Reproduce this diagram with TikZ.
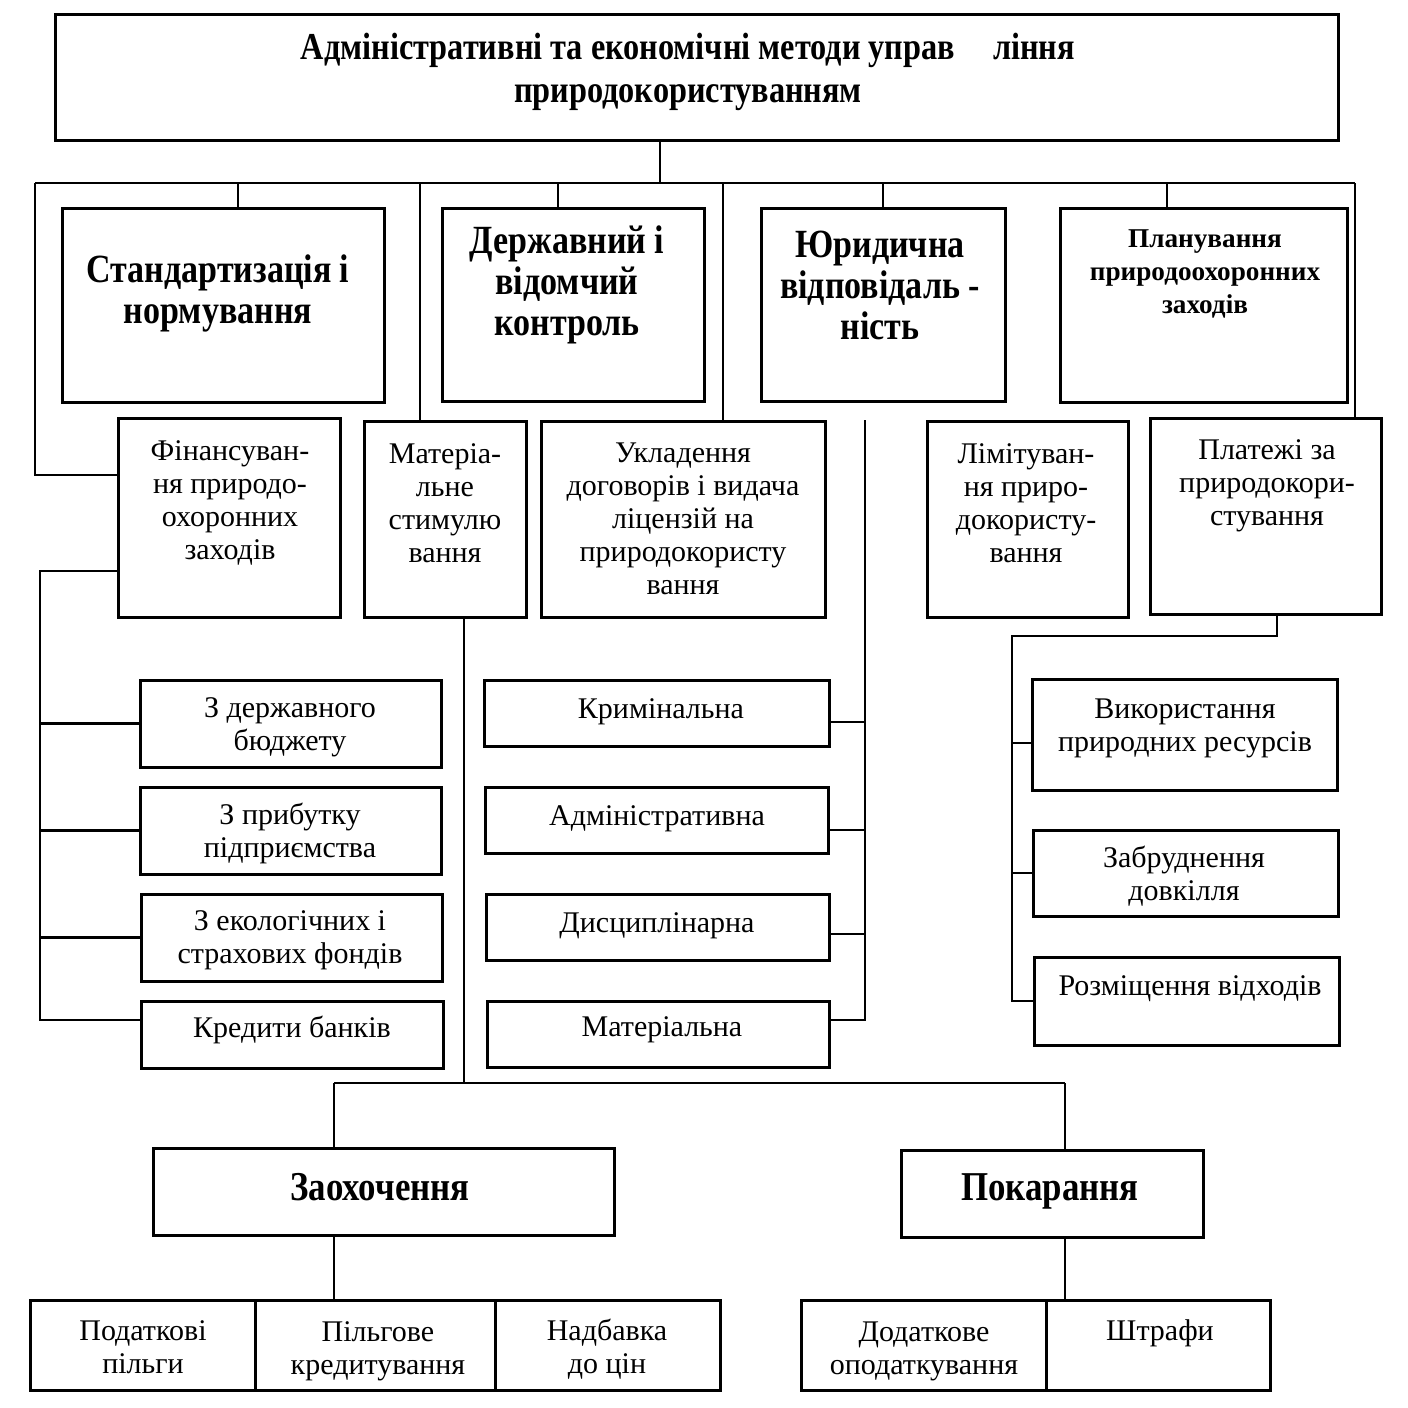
\documentclass[tikz,border=0pt]{standalone}
\usepackage{fontspec}
\setmainfont{Liberation Serif}
\newfontfamily\bcond[FakeStretch=0.85]{Liberation Serif}
\begin{document}
\begin{tikzpicture}[x=0.5pt,y=-0.5pt,
  box/.style={draw, line width=1.5pt, rectangle, inner sep=0pt},
  conn/.style={line width=1.1pt},
  txt/.style={align=center, inner sep=0pt, font=\fontsize{15}{16.5}\selectfont},
  txtb/.style={align=center, inner sep=0pt, font=\bcond\bfseries\fontsize{20}{20.5}\selectfont},
  txtz/.style={align=center, inner sep=0pt, font=\bcond\bfseries\fontsize{20.5}{21}\selectfont},
  txtt/.style={align=center, inner sep=0pt, font=\bcond\bfseries\fontsize{19}{21.5}\selectfont},
  txts/.style={align=center, inner sep=0pt, font=\bfseries\fontsize{13.6}{16.5}\selectfont}]
\useasboundingbox (0,0) rectangle (1408,1408);

% boxes
\node[box, minimum width=641.5pt, minimum height=63pt] (title) at (696.5,77) {};
\node[box, minimum width=161pt, minimum height=97pt] (std) at (223,305) {};
\node[box, minimum width=131pt, minimum height=96.5pt] (derzh) at (573,304.5) {};
\node[box, minimum width=122pt, minimum height=96.5pt] (jur) at (883,304.5) {};
\node[box, minimum width=143.5pt, minimum height=97pt] (plan) at (1203.5,305) {};
\node[box, minimum width=111pt, minimum height=99.5pt] (fin) at (229,517.5) {};
\node[box, minimum width=81pt, minimum height=98pt] (mat) at (445,519) {};
\node[box, minimum width=142pt, minimum height=98pt] (ukl) at (683,519) {};
\node[box, minimum width=100.5pt, minimum height=98pt] (lim) at (1027.5,519) {};
\node[box, minimum width=115.5pt, minimum height=98pt] (plat) at (1265.5,516) {};
\node[box, minimum width=150.5pt, minimum height=43.5pt] (b1) at (290.5,723.5) {};
\node[box, minimum width=150.5pt, minimum height=43.5pt] (b2) at (290.5,830.5) {};
\node[box, minimum width=150.5pt, minimum height=43.5pt] (b3) at (291.5,937.5) {};
\node[box, minimum width=151pt, minimum height=33.5pt] (b4) at (292,1034.5) {};
\node[box, minimum width=172.5pt, minimum height=33pt] (k1) at (656.5,713) {};
\node[box, minimum width=171.5pt, minimum height=33pt] (k2) at (656.5,820) {};
\node[box, minimum width=171.5pt, minimum height=33pt] (k3) at (657.5,927) {};
\node[box, minimum width=171pt, minimum height=33pt] (k4) at (658,1034) {};
\node[box, minimum width=152.5pt, minimum height=55.5pt] (r1) at (1184.5,734.5) {};
\node[box, minimum width=152.5pt, minimum height=43pt] (r2) at (1185.5,873) {};
\node[box, minimum width=152.5pt, minimum height=44pt] (r3) at (1186.5,1001) {};
\node[box, minimum width=230.5pt, minimum height=43.5pt] (zao) at (383.5,1191.5) {};
\node[box, minimum width=151pt, minimum height=43.5pt] (pok) at (1052,1193.5) {};
\node[box, minimum width=112.5pt, minimum height=45pt] (p1) at (142.5,1345) {};
\node[box, minimum width=120pt, minimum height=45pt] (p2) at (375,1345) {};
\node[box, minimum width=112.5pt, minimum height=45pt] (p3) at (607.5,1345) {};
\node[box, minimum width=122.5pt, minimum height=45pt] (d1) at (923.5,1345) {};
\node[box, minimum width=112pt, minimum height=45pt] (d2) at (1158,1345) {};

% texts
\node[txtt] (title-t) at (688,72) {Адміністративні та економічні методи управ\hspace{15pt} ління\\природокористуванням};
\node[txtb] (std-t) at (218,293) {Стандартизація і\\нормування};
\node[txtb] (derzh-t) at (567,285) {Державний і\\відомчий\\контроль};
\node[txtb] (jur-t) at (880,285) {Юридична\\відповідаль -\\ність};
\node[txts] (plan-t) at (1205,274) {Планування\\природоохоронних\\заходів};
\node[txt] (fin-t) at (230,503) {Фінансуван-\\ня природо-\\охоронних\\заходів};
\node[txt] (mat-t) at (445,503) {Матеріа-\\льне\\стимулю\\вання};
\node[txt] (ukl-t) at (683,519) {Укладення\\договорів і видача\\ліцензій на\\природокористу\\вання};
\node[txt] (lim-t) at (1026,503) {Лімітуван-\\ня приро-\\докористу-\\вання};
\node[txt] (plat-t) at (1267,486) {Платежі за\\природокори-\\стування};
\node[txt] (b1-t) at (290,727) {З державного\\бюджету};
\node[txt] (b2-t) at (290,833) {З прибутку\\підприємства};
\node[txt] (b3-t) at (290,940) {З екологічних і\\страхових фондів};
\node[txt] (b4-t) at (292,1030) {Кредити банків};
\node[txt] (k1-t) at (661,712) {Кримінальна};
\node[txt] (k2-t) at (657,819) {Адміністративна};
\node[txt] (k3-t) at (657,926) {Дисциплінарна};
\node[txt] (k4-t) at (662,1030) {Матеріальна};
\node[txt] (r1-t) at (1185,728) {Використання\\природних ресурсів};
\node[txt] (r2-t) at (1184,876) {Забруднення\\довкілля};
\node[txt] (r3-t) at (1190,989) {Розміщення відходів};
\node[txtz] (zao-t) at (380,1187) {Заохочення};
\node[txtz] (pok-t) at (1050,1191) {Покарання};
\node[txt] (p1-t) at (143,1347) {Податкові\\пільги};
\node[txt] (p2-t) at (378,1351) {Пільгове\\кредитування};
\node[txt] (p3-t) at (607,1349) {Надбавка\\до цін};
\node[txt] (d1-t) at (924,1351) {Додаткове\\оподаткування};
\node[txt] (d2-t) at (1160,1333) {Штрафи};

% coordinates
\coordinate (t0) at (660,183);
\coordinate (busL) at (35,183);
\coordinate (busR) at (1355,183);
\coordinate (lx) at (40,571);
\coordinate (jx) at (865,420);
\coordinate (rx) at (1012,636);
\coordinate (zb) at (464,1083);
\coordinate (zbL) at (334,1083);
\coordinate (zbR) at (1065,1083);

% top bus
\draw[conn] (title.south -| t0) -- (t0);
\draw[conn] (busL) -- (busR);
\draw[conn] ([xshift=7.5pt]std.north) -- ([xshift=7.5pt]std.north |- busL);
\draw[conn] ([xshift=-7.5pt]derzh.north) -- ([xshift=-7.5pt]derzh.north |- busL);
\draw[conn] (jur.north) -- (jur.north |- busL);
\draw[conn] ([xshift=-18.25pt]plan.north) -- ([xshift=-18.25pt]plan.north |- busL);
\draw[conn] (busL) |- ([yshift=21.25pt]fin.west);
\draw[conn] ([xshift=-12.5pt]mat.north) -- ([xshift=-12.5pt]mat.north |- busL);
\draw[conn] ([xshift=20pt]ukl.north) -- ([xshift=20pt]ukl.north |- busL);
\draw[conn] (busR) -- (busR |- plat.north);

% financing branches
\coordinate (b4in) at ([yshift=7.25pt]b4.west);
\draw[conn] ([yshift=-26.75pt]fin.west) -| (b4in -| lx) -- (b4in);
\draw[conn] (b1.west -| lx) -- (b1.west);
\draw[conn] (b2.west -| lx) -- (b2.west);
\draw[conn] (b3.west -| lx) -- (b3.west);

% legal responsibility branches
\coordinate (k1e) at ([yshift=-4.5pt]k1.east);
\coordinate (k2e) at ([yshift=-5pt]k2.east);
\coordinate (k3e) at ([yshift=-3.5pt]k3.east);
\coordinate (k4e) at ([yshift=7pt]k4.east);
\draw[conn] (jx) -- (jx |- k4e) -- (k4e);
\draw[conn] (k1e) -- (k1e -| jx);
\draw[conn] (k2e) -- (k2e -| jx);
\draw[conn] (k3e) -- (k3e -| jx);

% payments branches
\coordinate (r1w) at ([yshift=-4.25pt]r1.west);
\draw[conn] ([xshift=5.75pt]plat.south) |- (rx) -- (rx |- r3.west) -- (r3.west);
\draw[conn] (r1w -| rx) -- (r1w);
\draw[conn] (r2.west -| rx) -- (r2.west);

% stimulation
\draw[conn] ([xshift=9.5pt]mat.south) -- (zb);
\draw[conn] (zbL) -- (zbR);
\draw[conn] (zbL) -- (zbL |- zao.north);
\draw[conn] (zbR) -- (zbR |- pok.north);
\draw[conn] (zbL |- zao.south) -- (zbL |- p2.north);
\draw[conn] (zbR |- pok.south) -- (zbR |- d2.north);
\end{tikzpicture}
\end{document}
